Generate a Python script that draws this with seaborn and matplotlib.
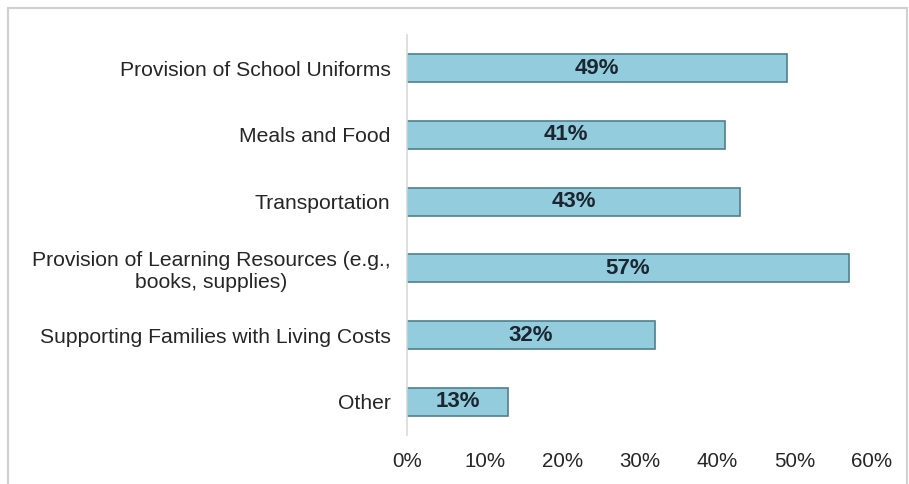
import matplotlib
matplotlib.use("Agg")
import matplotlib.pyplot as plt
import seaborn as sns
import pandas as pd
from matplotlib.patches import Rectangle
from matplotlib.ticker import PercentFormatter

categories = [
    "Provision of School Uniforms",
    "Meals and Food",
    "Transportation",
    "Provision of Learning Resources (e.g.,\nbooks, supplies)",
    "Supporting Families with Living Costs",
    "Other",
]
shares = [49, 41, 43, 57, 32, 13]
xticks = [0, 10, 20, 30, 40, 50, 60]

sns.set_theme(style="white")
plt.rcParams["font.family"] = ["Liberation Sans", "DejaVu Sans"]

df = pd.DataFrame({"cat": categories, "pct": shares})

fig = plt.figure(figsize=(9.09, 4.84), dpi=100)
ax = fig.add_axes([0.448, 0.101, 0.511, 0.827])
sns.barplot(data=df, x="pct", y="cat", color="#93CDDD", saturation=1,
            width=0.42, edgecolor="#4F7F8C", linewidth=1.2, ax=ax)

for p, v in zip(ax.patches, shares):
    ax.text(v / 2, p.get_y() + p.get_height() / 2, f"{v}%",
            ha="center", va="center", fontsize=16, fontweight="bold", color="#1b2630")

ax.set_xlim(0, 60)
ax.set_ylim(5.5, -0.5)
ax.set_xticks(xticks)
ax.xaxis.set_major_formatter(PercentFormatter(decimals=0))
ax.set_xlabel("")
ax.set_ylabel("")
ax.tick_params(axis="both", length=0, labelcolor="#262626")
ax.tick_params(axis="y", pad=12, labelsize=15.2)
ax.tick_params(axis="x", pad=12, labelsize=14.8)
for lbl in ax.get_yticklabels():
    lbl.set_multialignment("center")
for s in ["top", "right", "bottom"]:
    ax.spines[s].set_visible(False)
ax.spines["left"].set_color("#d9d9d9")
ax.spines["left"].set_linewidth(1.2)

# light frame around the chart area (bottom edge falls outside the image)
fig.patches.append(Rectangle((8 / 909, -0.1), 899 / 909, 1.1 - 8 / 484,
                             transform=fig.transFigure, fill=False,
                             edgecolor="#d0d0d0", linewidth=1.5))

fig.savefig("out.png", dpi=100)
